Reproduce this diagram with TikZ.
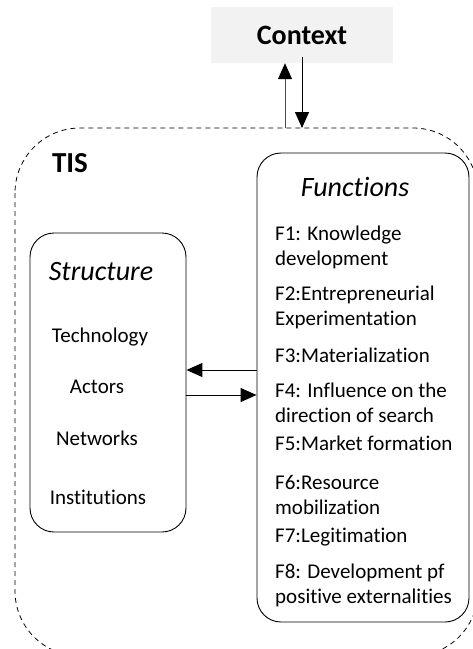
\documentclass[tikz,border=0pt]{standalone}
\usepackage{fontspec}
\setmainfont{Carlito}[Ligatures=NoCommon]
\usetikzlibrary{arrows.meta}
\begin{document}
\begin{tikzpicture}[x=1pt,y=1pt,
  body/.style={font=\fontsize{21}{25}\selectfont, inner sep=0pt, anchor=west, align=left},
  sitem/.style={font=\fontsize{21}{25}\selectfont, inner sep=0pt},
  ttl/.style={font=\fontsize{28}{32}\selectfont\itshape, inner sep=0pt},
  rbox/.style={draw=black, line width=0.9pt, rounded corners=24pt, inner sep=0pt},
  tip/.style={-{Triangle[length=16pt,width=14pt,color=black]}, line width=1pt}]
\useasboundingbox (0,0) rectangle (473,-649);
\clip (0,0) rectangle (473,-649);
% outer dashed TIS boundary
\draw[dashed, line width=0.8pt, dash pattern=on 5pt off 4pt, rounded corners=65pt] (15,-128) rectangle (478,-656);
\node[font=\fontsize{29}{32}\selectfont\bfseries, inner sep=0pt] (tis) at (70,-163) {TIS};
% context
\node[fill=black!5, minimum width=182pt, minimum height=56pt, inner sep=0pt,
      font=\fontsize{28}{32}\selectfont\bfseries] (ctx) at (302,-35) {Context};
\coordinate (upfrom) at (285,-128);
\coordinate (downto) at (302,-128);
\draw[tip, draw=black!70] (upfrom) -- (upfrom |- ctx.south);
\draw[tip] (downto |- ctx.south) ++(0,6) -- (downto);
% structure box
\node[rbox, minimum width=156pt, minimum height=299pt] (sbox) at (108,-382.5) {};
\node[ttl] (stitle) at (101,-272) {Structure};
\node[sitem] (tech) at (100,-337) {Technology};
\node[sitem] (act) at (97,-387) {Actors};
\node[sitem] (net) at (97,-438) {Networks};
\node[sitem] (inst) at (98,-497) {Institutions};
% functions box
\node[rbox, minimum width=212pt, minimum height=469pt] (fbox) at (363,-387.5) {};
\node[ttl] (ftitle) at (355,-187) {Functions};
\node[body] (f1) at (275,-247.5) {F1: Knowledge\\development};
\node[body] (f2) at (275,-307.5) {F2:Entrepreneurial\\Experimentation};
\node[body] (f3) at (275,-355) {F3:Materialization};
\node[body] (f4) at (275,-403) {F4: Influence on the\\direction of search};
\node[body] (f5) at (275,-443) {F5:Market formation};
\node[body] (f6) at (275,-495) {F6:Resource\\mobilization};
\node[body] (f7) at (275,-537) {F7:Legitimation};
\node[body] (f8) at (275,-585.5) {F8: Development pf\\positive externalities};
% arrows between structure and functions
\draw[tip] (fbox.west |- 0,-370) -- (sbox.east |- 0,-370);
\draw[tip] (sbox.east |- 0,-395) -- (fbox.west |- 0,-395);
\end{tikzpicture}
\end{document}
